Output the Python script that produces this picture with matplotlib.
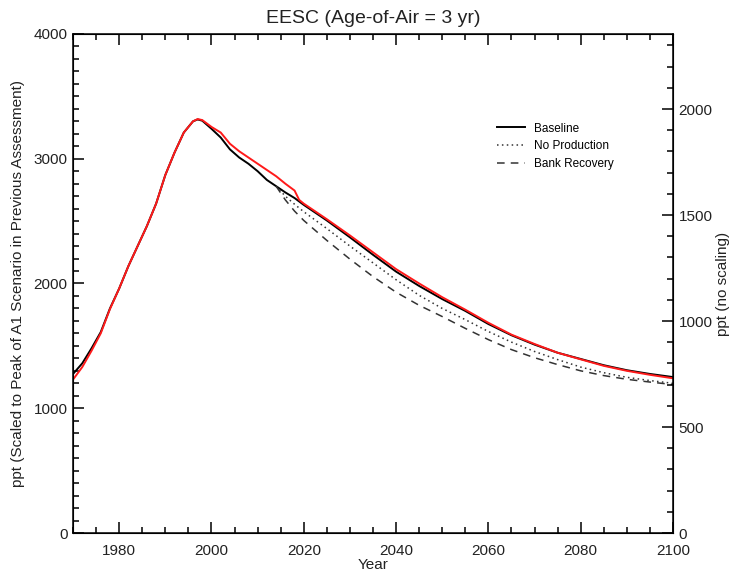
import matplotlib
matplotlib.use("Agg")
import matplotlib.pyplot as plt
from matplotlib.ticker import MultipleLocator

plt.rcParams['font.family'] = ['Liberation Sans', 'DejaVu Sans']

# Baseline EESC (black) and the red comparison curve
base_years = [1970, 1972, 1974, 1976, 1978, 1980, 1982, 1984, 1986, 1988, 1990,
              1992, 1994, 1996, 1997, 1998, 2000, 2002, 2004, 2006, 2008, 2010,
              2012, 2014, 2016, 2018, 2020, 2025, 2030, 2035, 2040, 2045, 2050,
              2055, 2060, 2065, 2070, 2075, 2080, 2085, 2090, 2095, 2100]
base_vals = [1275, 1360, 1480, 1610, 1800, 1960, 2140, 2300, 2460, 2640, 2870,
             3050, 3210, 3300, 3315, 3305, 3240, 3170, 3075, 3010, 2960, 2900,
             2830, 2780, 2730, 2685, 2630, 2505, 2370, 2230, 2095, 1980, 1875,
             1780, 1675, 1585, 1510, 1445, 1395, 1345, 1305, 1275, 1250]

red_years = [1970, 1972, 1974, 1976, 1978, 1980, 1982, 1984, 1986, 1988, 1990,
             1992, 1994, 1996, 1997, 1998, 2000, 2002, 2004, 2006, 2008, 2010,
             2012, 2014, 2016, 2018, 2019, 2020, 2025, 2030, 2035, 2040, 2045,
             2050, 2055, 2060, 2065, 2070, 2075, 2080, 2085, 2090, 2095, 2100]
red_vals = [1230, 1330, 1460, 1600, 1795, 1960, 2140, 2300, 2460, 2640, 2870,
            3050, 3210, 3300, 3318, 3310, 3255, 3210, 3120, 3060, 3010, 2960,
            2910, 2860, 2800, 2745, 2670, 2640, 2515, 2385, 2250, 2115, 2000,
            1890, 1790, 1685, 1590, 1515, 1445, 1392, 1340, 1300, 1268, 1240]

# Scenarios branching off after 2014
scen_years = [2014, 2016, 2018, 2020, 2025, 2030, 2035, 2040, 2045, 2050, 2055,
              2060, 2065, 2070, 2075, 2080, 2085, 2090, 2095, 2100]
no_prod = [2780, 2700, 2635, 2575, 2440, 2300, 2165, 2030, 1905, 1800, 1710,
           1615, 1530, 1455, 1390, 1330, 1285, 1248, 1222, 1200]
bank_rec = [2780, 2670, 2580, 2505, 2345, 2195, 2055, 1930, 1825, 1735, 1640,
            1550, 1470, 1405, 1350, 1300, 1262, 1232, 1210, 1190]

txt = '#222222'

fig = plt.figure(figsize=(7.31, 5.74), dpi=100)
ax = fig.add_axes([0.0999, 0.0714, 0.8208, 0.8694])

ax.plot(base_years, base_vals, color='black', lw=1.4, label='Baseline')
ax.plot(scen_years, no_prod, color='#333333', lw=1.1, linestyle=(0, (1, 2.2)),
        label='No Production')
ax.plot(scen_years, bank_rec, color='#333333', lw=1.1, linestyle=(0, (5, 4)),
        label='Bank Recovery')
ax.plot(red_years, red_vals, color='#ff1a1a', lw=1.4)

ax.set_xlim(1970, 2100)
ax.set_ylim(0, 4000)
ax.xaxis.set_major_locator(MultipleLocator(20))
ax.xaxis.set_minor_locator(MultipleLocator(5))
ax.yaxis.set_major_locator(MultipleLocator(1000))
ax.yaxis.set_minor_locator(MultipleLocator(100))
ax.tick_params(axis='x', which='both', direction='in', top=True, labelsize=11,
               labelcolor=txt, pad=8)
ax.tick_params(axis='y', which='both', direction='in', right=False, labelsize=11,
               labelcolor=txt, pad=4)
ax.tick_params(which='major', length=8, width=1.1)
ax.tick_params(which='minor', length=4, width=1.1)
for s in ax.spines.values():
    s.set_linewidth(1.1)

ax.set_title('EESC (Age-of-Air = 3 yr)', fontsize=14, color=txt, pad=8)
ax.set_xlabel('Year', fontsize=11, color=txt, labelpad=0)
ax.set_ylabel('ppt (Scaled to Peak of A1 Scenario in Previous Assessment)',
              fontsize=11, color=txt, labelpad=6)

ax2 = ax.twinx()
ax2.set_ylim(0, 4000 / 1.699)
ax2.yaxis.set_major_locator(MultipleLocator(500))
ax2.yaxis.set_minor_locator(MultipleLocator(100))
ax2.tick_params(axis='y', which='both', direction='in', labelsize=11,
                labelcolor=txt, pad=4)
ax2.tick_params(which='major', length=8, width=1.1)
ax2.tick_params(which='minor', length=4, width=1.1)
ax2.set_ylabel('ppt (no scaling)', fontsize=11, color=txt)
ax2.yaxis.set_label_coords(1.072, 0.5)

ax.legend(loc='upper left', bbox_to_anchor=(0.698, 0.832), frameon=False,
          fontsize=8.5, handlelength=2.4, handletextpad=0.8, labelspacing=0.5,
          borderaxespad=0)

fig.savefig('out.png', dpi=100)
